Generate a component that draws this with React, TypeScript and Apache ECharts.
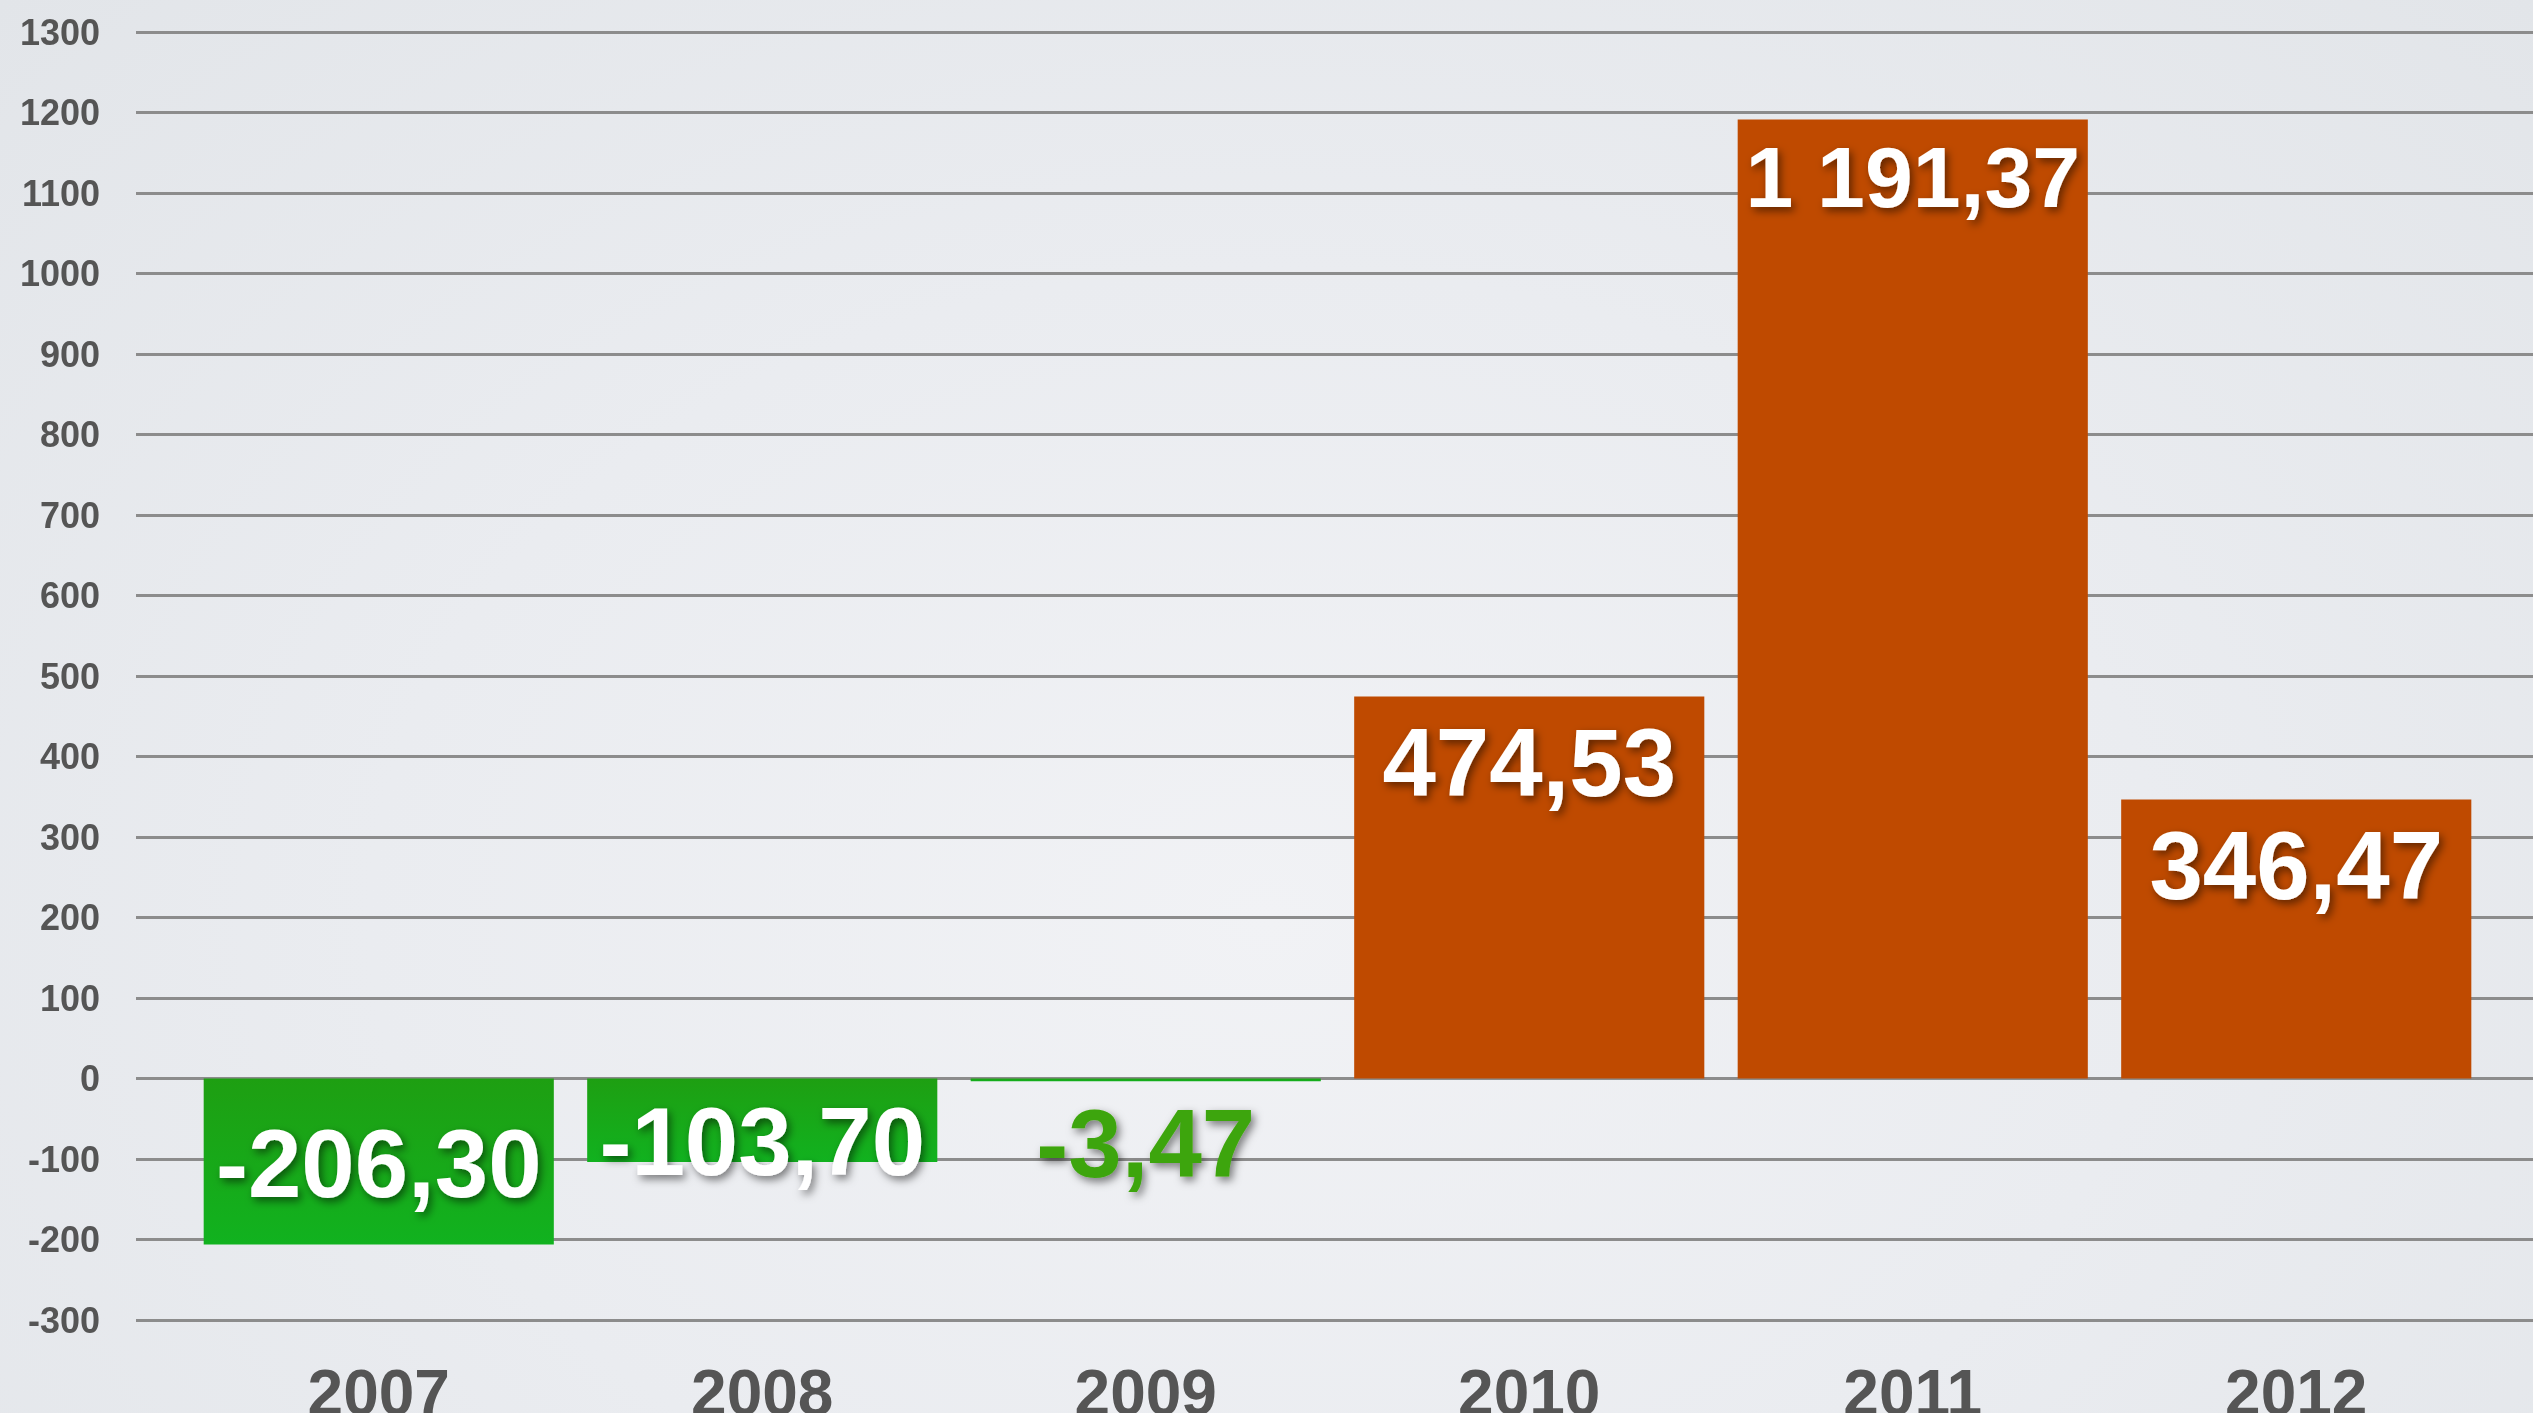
import React, { useEffect, useRef } from "react";
import * as echarts from "echarts";

// ---- Data ----
const years = ["2007", "2008", "2009", "2010", "2011", "2012"];
const values = [-206.3, -103.7, -3.47, 474.53, 1191.37, 346.47];
const yMin = -300;
const yMax = 1300;
const yInterval = 100;

// ---- Styling (not data) ----
const FONT = "'Liberation Sans', Arial, Helvetica, sans-serif";
const labelCenterBelowTop = [85, 63, 65, 66, 58, 66];
const labelFontSizes = [96, 96, 96, 96, 86, 96];
const labelColors = ["#ffffff", "#ffffff", "#3ea50b", "#ffffff", "#ffffff", "#ffffff"];

function fmt(v: number): string {
  const neg = v < 0;
  const [i, d] = Math.abs(v).toFixed(2).split(".");
  const ii = i.replace(/\B(?=(\d{3})+(?!\d))/g, " ");
  return (neg ? "-" : "") + ii + "," + d;
}

export default function App() {
  const ref = useRef<HTMLDivElement>(null);
  useEffect(() => {
    if (!ref.current) return;
    const chart = echarts.init(ref.current, null, { renderer: "svg" });
    const green = new echarts.graphic.LinearGradient(0, 0, 0, 1, [
      { offset: 0, color: "#1e9f12" },
      { offset: 1, color: "#11b21f" },
    ]);
    const items = values.map((v, i) => ({
      value: v,
      itemStyle: { color: v < 0 ? green : "#bf4a00" },
      label: {
        show: true,
        position: ["50%", labelCenterBelowTop[i]],
        align: "center",
        verticalAlign: "middle",
        fontSize: labelFontSizes[i],
        color: labelColors[i],
      },
    }));
    chart.setOption({
      animation: false,
      grid: [
        { left: 187, right: 45, top: 32, bottom: 93, outerBoundsMode: "none", containLabel: false },
        { left: 136, right: 0, top: 32, bottom: 93, outerBoundsMode: "none", containLabel: false },
      ],
      xAxis: [
        {
          type: "category",
          gridIndex: 0,
          data: years,
          axisLine: { show: false },
          axisTick: { show: false },
          axisLabel: {
            fontSize: 64,
            fontWeight: "bold",
            color: "#555555",
            fontFamily: FONT,
            margin: 41,
          },
        },
        { type: "value", gridIndex: 1, min: 0, max: 1, show: false },
      ],
      yAxis: [
        { type: "value", gridIndex: 0, min: yMin, max: yMax, interval: yInterval, show: false },
        {
          type: "value",
          gridIndex: 1,
          min: yMin,
          max: yMax,
          interval: yInterval,
          axisLine: { show: false },
          axisTick: { show: false },
          axisLabel: {
            fontSize: 36,
            fontWeight: "bold",
            color: "#555555",
            fontFamily: FONT,
            margin: 36,
            formatter: (v: number) => String(v),
          },
          splitLine: { lineStyle: { color: "#8c8c8c", width: 3 } },
        },
      ],
      series: [
        {
          type: "bar",
          xAxisIndex: 0,
          yAxisIndex: 0,
          barCategoryGap: "8.7%",
          data: items,
          label: {
            show: true,
            formatter: (p: any) => fmt(p.value),
            fontFamily: FONT,
            fontWeight: "bold",
            textShadowColor: "rgba(0,0,0,0.5)",
            textShadowBlur: 8,
            textShadowOffsetX: 3,
            textShadowOffsetY: 4,
          },
        },
      ],
    });
    return () => chart.dispose();
  }, []);
  return (
    <div
      ref={ref}
      style={{
        position: "fixed",
        left: 0,
        top: 0,
        width: 2533,
        height: 1413,
        background:
          "radial-gradient(ellipse at 50% 65%, #f1f2f5 0%, #eaecf0 50%, #e2e5e9 100%)",
      }}
    />
  );
}
